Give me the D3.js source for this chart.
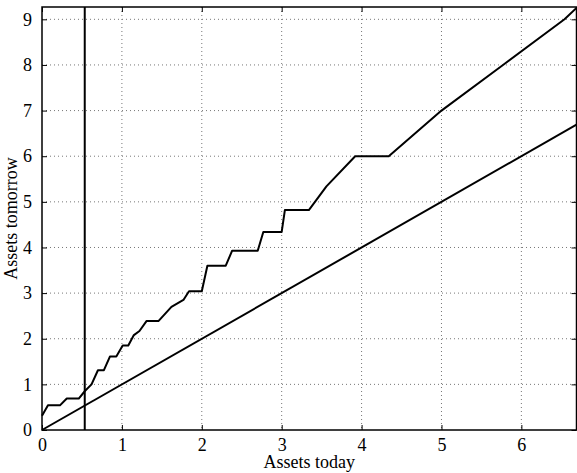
<!DOCTYPE html>
<html>
<head>
<meta charset="utf-8">
<script src="https://cdn.jsdelivr.net/npm/d3@7/dist/d3.min.js"></script>
<style>
  body { margin: 0; background: #fff; }
  text { font-family: "Liberation Serif", "Times New Roman", serif; }
</style>
</head>
<body>
<script>
var xTicks = [0, 1, 2, 3, 4, 5, 6];
var yTicks = [0, 1, 2, 3, 4, 5, 6, 7, 8, 9];
var xMax = 6.69, yMax = 9.27;

// policy curve: assets tomorrow vs assets today
var curveX = [0, 0.075, 0.225, 0.31, 0.46, 0.54, 0.62, 0.70, 0.775, 0.85, 0.93, 1.01, 1.08, 1.15, 1.22, 1.31, 1.46, 1.62, 1.77, 1.84, 2.0, 2.07, 2.30, 2.38, 2.70, 2.77, 3.0, 3.04, 3.34, 3.56, 3.92, 4.34, 5.0, 5.77, 6.54, 6.69];
var curveY = [0.31, 0.54, 0.54, 0.69, 0.69, 0.86, 1.0, 1.31, 1.31, 1.61, 1.61, 1.85, 1.85, 2.08, 2.17, 2.39, 2.39, 2.70, 2.85, 3.04, 3.04, 3.60, 3.60, 3.93, 3.93, 4.34, 4.34, 4.82, 4.82, 5.34, 6.0, 6.0, 7.0, 8.0, 9.0, 9.25];

// 45 degree line
var diagX = [0, 6.69];
var diagY = [0, 6.69];

// vertical marker
var markerX = 0.535;

var W = 577, H = 473;
var mLeft = 42, mRight = 576.5, mTop = 7, mBottom = 430;

var svg = d3.select("body").append("svg")
    .attr("width", W)
    .attr("height", H);

var x = d3.scaleLinear().domain([0, xMax]).range([mLeft, mRight]);
var y = d3.scaleLinear().domain([0, yMax]).range([mBottom, mTop]);

// dotted grid
var grid = svg.append("g");
grid.selectAll(".gx")
    .data(xTicks.filter(d => d > 0))
    .enter().append("line")
    .attr("x1", d => x(d)).attr("x2", d => x(d))
    .attr("y1", mTop).attr("y2", mBottom)
    .attr("stroke", "#777").attr("stroke-width", 1)
    .attr("stroke-dasharray", "1,3");
grid.selectAll(".gy")
    .data(yTicks.filter(d => d > 0))
    .enter().append("line")
    .attr("x1", mLeft).attr("x2", mRight)
    .attr("y1", d => y(d)).attr("y2", d => y(d))
    .attr("stroke", "#777").attr("stroke-width", 1)
    .attr("stroke-dasharray", "1,3");

// axes, ticks pointing inward
var fmt = d3.format("d");
var xAxis = d3.axisBottom(x).tickValues(xTicks).tickFormat(fmt).tickSizeInner(-5).tickSizeOuter(0).tickPadding(8);
var yAxis = d3.axisLeft(y).tickValues(yTicks).tickFormat(fmt).tickSizeInner(-5).tickSizeOuter(0).tickPadding(10);

var gx = svg.append("g").attr("transform", "translate(0," + mBottom + ")").call(xAxis);
var gy = svg.append("g").attr("transform", "translate(" + mLeft + ",0)").call(yAxis);
var gxTop = svg.append("g").attr("transform", "translate(0," + mTop + ")")
    .call(d3.axisTop(x).tickValues(xTicks).tickSizeInner(-5).tickSizeOuter(0).tickFormat(""));
var gyRight = svg.append("g").attr("transform", "translate(" + mRight + ",0)")
    .call(d3.axisRight(y).tickValues(yTicks).tickSizeInner(-5).tickSizeOuter(0).tickFormat(""));

[gx, gy, gxTop, gyRight].forEach(function (g) {
    g.select(".domain").remove();
    g.selectAll(".tick line").attr("stroke", "#000");
    g.selectAll(".tick text").attr("font-size", 18).attr("fill", "#000")
        .style("font-family", "'Liberation Serif', serif");
});
gx.selectAll(".tick text").attr("dy", "0.71em");

// box
svg.append("rect")
    .attr("x", mLeft).attr("y", mTop)
    .attr("width", mRight - mLeft).attr("height", mBottom - mTop)
    .attr("fill", "none").attr("stroke", "#000").attr("stroke-width", 1.5);

// lines
var line = d3.line().x(d => x(d[0])).y(d => y(d[1]));

svg.append("path")
    .datum(curveX.map((v, i) => [v, curveY[i]]))
    .attr("fill", "none").attr("stroke", "#000").attr("stroke-width", 2)
    .attr("stroke-linejoin", "round")
    .attr("d", line);

svg.append("path")
    .datum(diagX.map((v, i) => [v, diagY[i]]))
    .attr("fill", "none").attr("stroke", "#000").attr("stroke-width", 2)
    .attr("d", line);

svg.append("line")
    .attr("x1", x(markerX)).attr("x2", x(markerX))
    .attr("y1", mTop).attr("y2", mBottom)
    .attr("stroke", "#000").attr("stroke-width", 2);

// axis labels
svg.append("text")
    .attr("x", (mLeft + mRight) / 2).attr("y", 468)
    .attr("text-anchor", "middle").attr("font-size", 18)
    .text("Assets today");

svg.append("text")
    .attr("transform", "translate(17," + ((mTop + mBottom) / 2) + ") rotate(-90)")
    .attr("text-anchor", "middle").attr("font-size", 18)
    .text("Assets tomorrow");
</script>
</body>
</html>
